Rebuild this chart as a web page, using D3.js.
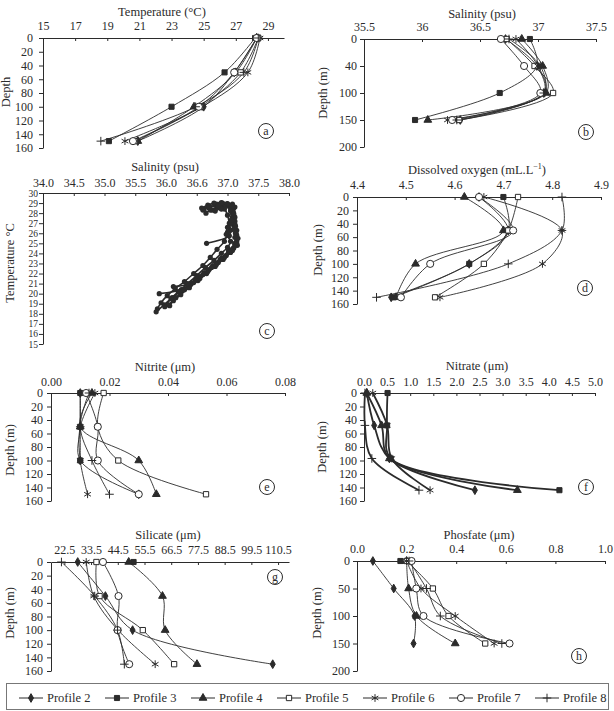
<!DOCTYPE html>
<html>
<head>
<meta charset="utf-8">
<script src="https://cdn.jsdelivr.net/npm/d3@7"></script>
<style>
  body { margin: 0; background: #fff; }
  svg { font-family: "Liberation Serif", "Times New Roman", serif; }
</style>
</head>
<body>
<svg id="chart" width="614" height="711"></svg>
<script>
// ---- data (rows are Profile 2 .. Profile 8, one value per sampled depth; null = no sample)
const profileNames = ["Profile 2", "Profile 3", "Profile 4", "Profile 5", "Profile 6", "Profile 7", "Profile 8"];
const depths = [0, 50, 100, 150];
const nitrateDepths = [0, 48, 97, 144];

const temperature = [
  [28.3, 26.9, 25.0, 20.9],
  [28.2, 26.3, 23.0, 19.1],
  [28.3, 27.0, 24.4, 20.9],
  [28.4, 27.3, 24.8, 20.7],
  [28.5, 27.75, 24.9, 20.1],
  [28.3, 26.9, 24.7, 20.6],
  [28.4, 27.5, 24.5, 18.6]
];
const salinity = [
  [36.72, 36.99, 37.05, 36.33],
  [36.93, 36.99, 36.67, 35.94],
  [36.86, 37.04, 37.07, 36.05],
  [36.73, 36.97, 37.13, 36.32],
  [36.81, 37.00, 37.06, 36.22],
  [36.68, 36.88, 37.02, 36.26],
  [36.75, 37.02, 37.05, 36.30]
];
const oxygen = [
  [4.65, 4.71, 4.63, 4.47],
  [4.70, 4.71, 4.63, 4.475],
  [4.62, 4.70, 4.52, 4.48],
  [4.73, 4.71, 4.66, 4.56],
  [4.66, 4.82, 4.78, 4.57],
  [4.65, 4.72, 4.55, 4.49],
  [4.82, 4.82, 4.71, 4.44]
];
const nitrite = [
  [0.010, 0.010, 0.010, 0.030],
  [0.010, 0.010, 0.010, null],
  [0.014, 0.010, 0.030, 0.036],
  [0.018, 0.016, 0.023, 0.053],
  [0.015, 0.010, 0.010, 0.0125],
  [0.012, 0.016, 0.016, 0.030],
  [0.013, 0.010, 0.014, 0.020]
];
const nitrate = [
  [0.06, 0.22, 0.55, 2.40],
  [0.51, 0.50, 0.58, 4.23],
  [0.06, 0.38, 0.55, 3.32],
  [null, null, null, null],
  [0.19, 0.50, 0.60, 1.43],
  [null, null, null, null],
  [0.02, 0.02, 0.17, 1.19]
];
const silicate = [
  [28.0, 39.4, 50.6, 108.3],
  [51.0, null, null, null],
  [49.0, 62.9, 64.0, 77.1],
  [35.7, 37.0, 54.8, 67.7],
  [31.5, 34.6, 44.6, 59.9],
  [38.4, 44.8, 44.4, 49.2],
  [21.3, 35.0, 44.4, 47.2]
];
const phosfate = [
  [0.064, 0.148, 0.232, 0.228],
  [0.175, null, null, null],
  [0.200, 0.208, 0.240, 0.396],
  [0.200, 0.306, 0.369, 0.517],
  [0.200, 0.258, 0.396, 0.553],
  [0.220, 0.239, 0.268, 0.615],
  [0.210, 0.280, 0.336, 0.584]
];

// T-S casts: [salinity, temperature]
const tsCurves = [
  [[36.62,28.4],[36.70,28.7],[36.82,28.9],[36.95,28.8],[37.05,28.3],[37.08,27.6],[37.10,26.8],[37.13,26.0],[37.15,25.2],[37.10,24.5],[36.98,23.8],[36.85,23.1],[36.70,22.4],[36.55,21.7],[36.40,21.0],[36.25,20.3],[36.10,19.6],[35.97,18.9],[35.84,18.2]],
  [[36.70,28.5],[36.80,28.8],[36.92,29.0],[37.02,28.7],[37.08,28.0],[37.12,27.2],[37.15,26.3],[37.17,25.5],[37.16,24.8],[37.05,24.1],[36.93,23.4],[36.80,22.7],[36.66,22.0],[36.52,21.3],[36.38,20.6],[36.24,19.9],[36.12,19.3],[36.06,18.8]],
  [[36.75,28.3],[36.85,28.6],[36.98,28.9],[37.06,28.6],[37.10,27.8],[37.12,26.9],[37.14,26.0],[37.15,25.0],[37.08,24.3],[36.95,23.6],[36.82,22.9],[36.68,22.2],[36.55,21.5],[36.40,20.9],[36.25,20.4],[35.89,20.0]],
  [[36.80,28.2],[36.90,28.5],[37.00,28.8],[37.10,28.5],[37.12,27.6],[37.13,26.7],[37.15,25.8],[37.12,25.0],[37.02,24.3],[36.90,23.5],[36.76,22.8],[36.62,22.1],[36.48,21.4],[36.34,20.9],[36.12,20.7]],
  [[36.65,28.0],[36.72,28.3],[36.85,28.6],[36.95,28.4],[37.00,27.8],[37.03,27.0],[37.05,26.3],[37.03,25.75],[36.66,25.0]],
  [[36.90,28.4],[36.98,28.7],[37.08,28.9],[37.12,28.6],[37.10,27.9],[37.05,27.0],[37.00,26.1],[36.95,25.2],[36.83,24.4],[36.72,23.6],[36.60,22.8],[36.45,22.0],[36.30,21.2],[36.15,20.5],[36.02,19.8],[35.92,19.1],[35.86,18.5]],
  [[36.58,28.5],[36.68,28.8],[36.78,29.0],[36.90,29.05],[37.00,28.9],[37.05,28.2],[37.08,27.3],[37.10,26.4],[37.12,25.6],[37.12,24.9],[37.02,24.2],[36.88,23.4],[36.74,22.6],[36.60,21.9],[36.45,21.1],[36.30,20.4],[36.16,19.6],[36.04,18.9]],
  [[36.60,28.3],[36.70,28.6],[36.85,28.75],[37.00,28.95],[37.08,28.7],[37.10,28.0],[37.06,27.3],[37.00,26.6],[36.98,25.9],[37.05,25.2],[37.00,24.6],[36.90,24.0],[36.78,23.3],[36.64,22.6],[36.50,21.8],[36.35,21.0],[36.20,20.2],[36.08,19.5],[35.98,18.7]]
];

// ---- tick values / labels
const depthTicks160 = [0, 20, 40, 60, 80, 100, 120, 140, 160];
const depthTicks200 = [0, 50, 100, 150, 200];
const salDepthLabels = ["0", "40", "100", "150", "200"];
const tempTicks = [15, 17, 19, 21, 23, 25, 27, 29];
const salTicks = [35.5, 36, 36.5, 37, 37.5];
const tsSalTicks = [34, 34.5, 35, 35.5, 36, 36.5, 37, 37.5, 38];
const tsSalLabels = ["34.0", "34.5", "35.0", "35.5", "36.0", "36.6", "37.0", "37.5", "38.0"];
const tsTempTicks = [15, 16, 17, 18, 19, 20, 21, 22, 23, 24, 25, 26, 27, 28, 29, 30];
const oxyTicks = [4.4, 4.5, 4.6, 4.7, 4.8, 4.9];
const nitriteTicks = [0, 0.02, 0.04, 0.06, 0.08];
const nitrateTicks = [0, 0.5, 1, 1.5, 2, 2.5, 3, 3.5, 4, 4.5, 5];
const silicateTicks = [22.5, 33.5, 44.5, 55.5, 66.5, 77.5, 88.5, 99.5, 110.5];
const phosfateTicks = [0, 0.2, 0.4, 0.6, 0.8, 1];

// ---- styles
const INK = "#2b2b2b",
      FONT_SIZE = 12;

const MARKERS = [
  {type: d3.symbolDiamond, size: 22, fill: INK},
  {type: d3.symbolSquare, size: 26, fill: INK},
  {type: d3.symbolTriangle, size: 26, fill: INK},
  {type: d3.symbolSquare, size: 28, fill: "#fff"},
  {type: d3.symbolAsterisk, size: 42, fill: "none"},
  {type: d3.symbolCircle, size: 40, fill: "#fff"},
  {type: d3.symbolPlus, size: 26, fill: "none"}
];

const svg = d3.select("#chart");

function styleAxis(sel) {
  sel.attr("font-family", null)
    .attr("font-size", FONT_SIZE);
  sel.selectAll("path, line").attr("stroke", INK);
  sel.selectAll("text").attr("fill", INK);
}

function panel(o) {
  let x = d3.scaleLinear().domain(o.xDomain).range([o.left, o.right]),
      y = d3.scaleLinear().domain(o.yDomain).range([o.top, o.bottom]),
      g = svg.append("g");

  let xAxis = d3.axisTop(x)
      .tickValues(o.xTicks)
      .tickSize(-3)
      .tickSizeOuter(0)
      .tickPadding(o.xPad || 8);
  if (o.xLabels)
    xAxis.tickFormat((d, i) => o.xLabels[i]);
  else if (o.xFormat)
    xAxis.tickFormat(d3.format(o.xFormat));
  else
    xAxis.tickFormat(d => String(d));

  let yAxis = d3.axisLeft(y)
      .tickValues(o.yTicks)
      .tickSize(4)
      .tickSizeOuter(0)
      .tickPadding(o.yPad || 4);
  if (o.yLabels)
    yAxis.tickFormat((d, i) => o.yLabels[i]);

  g.append("g")
    .attr("transform", "translate(0," + o.top + ")")
    .call(xAxis)
    .call(styleAxis);

  g.append("g")
    .attr("transform", "translate(" + o.left + ",0)")
    .call(yAxis)
    .call(styleAxis)
    .attr("font-size", o.yFont || FONT_SIZE);

  g.append("text")
    .attr("x", o.titleX)
    .attr("y", o.titleY)
    .attr("text-anchor", "middle")
    .attr("font-size", FONT_SIZE + 0.5)
    .attr("fill", INK)
    .html(o.title);

  g.append("text")
    .attr("transform", "translate(" + o.yTitleX + "," + o.yTitleY + ") rotate(-90)")
    .attr("text-anchor", "middle")
    .attr("font-size", FONT_SIZE + 0.5)
    .attr("fill", INK)
    .text(o.yTitle);

  // circled panel letter
  g.append("circle")
    .attr("cx", o.tagX)
    .attr("cy", o.tagY)
    .attr("r", 7.5)
    .attr("fill", "#fff")
    .attr("stroke", INK);
  g.append("text")
    .attr("x", o.tagX)
    .attr("y", o.tagY + 4)
    .attr("text-anchor", "middle")
    .attr("font-size", FONT_SIZE)
    .attr("fill", INK)
    .text(o.tag);

  return {g: g, x: x, y: y};
}

function marker(sel, i) {
  let m = MARKERS[i];
  sel.attr("d", d3.symbol().type(m.type).size(m.size)())
    .attr("fill", m.fill)
    .attr("stroke", INK)
    .attr("stroke-width", 1);
}

function drawProfiles(p, depthList, rows, lineWidth) {
  let line = d3.line()
      .x(d => p.x(d.v))
      .y(d => p.y(d.depth))
      .curve(d3.curveCatmullRom);

  let series = rows.map(row =>
    row.map((v, j) => ({v: v, depth: depthList[j]})).filter(d => d.v != null));

  p.g.append("g")
    .selectAll("path")
    .data(series)
    .join("path")
    .attr("d", d => d.length > 1 ? line(d) : null)
    .attr("fill", "none")
    .attr("stroke", INK)
    .attr("stroke-width", lineWidth || 0.9);

  series.forEach((pts, i) => {
    p.g.append("g")
      .selectAll("path")
      .data(pts)
      .join("path")
      .attr("transform", d => "translate(" + p.x(d.v) + "," + p.y(d.depth) + ")")
      .call(marker, i);
  });
}

// a) temperature
let pa = panel({
  xDomain: [15, 30], left: 43, right: 284, xTicks: tempTicks,
  yDomain: [0, 160], top: 38, bottom: 148, yTicks: depthTicks160, yPad: 6,
  title: "Temperature (°C)", titleX: 162, titleY: 16,
  yTitle: "Depth", yTitleX: 10, yTitleY: 92,
  tag: "a", tagX: 266, tagY: 131
});
drawProfiles(pa, depths, temperature);

// b) salinity
let pb = panel({
  xDomain: [35.5, 37.5], left: 364, right: 596, xTicks: salTicks,
  yDomain: [0, 200], top: 39, bottom: 147, yTicks: depthTicks200, yLabels: salDepthLabels, yPad: 3,
  title: "Salinity (psu)", titleX: 482, titleY: 18,
  yTitle: "Depth (m)", yTitleX: 327, yTitleY: 93,
  tag: "b", tagX: 586, tagY: 132
});
drawProfiles(pb, depths, salinity);

// c) T-S diagram
let pc = panel({
  xDomain: [34, 38], left: 43, right: 289, xTicks: tsSalTicks, xLabels: tsSalLabels, xPad: 6,
  yDomain: [30, 15], top: 193, bottom: 344, yTicks: tsTempTicks, yPad: 1, yFont: 9.5,
  title: "Salinity (psu)", titleX: 165, titleY: 171,
  yTitle: "Temperature °C", yTitleX: 14, yTitleY: 263,
  tag: "c", tagX: 267, tagY: 331
});
let tsLine = d3.line()
    .x(d => pc.x(d[0]))
    .y(d => pc.y(d[1]))
    .curve(d3.curveCatmullRom);
pc.g.append("g")
  .selectAll("path")
  .data(tsCurves)
  .join("path")
  .attr("d", tsLine)
  .attr("fill", "none")
  .attr("stroke", INK)
  .attr("stroke-width", 1.6);
pc.g.append("g")
  .selectAll("circle")
  .data(tsCurves.flat())
  .join("circle")
  .attr("cx", d => pc.x(d[0]))
  .attr("cy", d => pc.y(d[1]))
  .attr("r", 2.6)
  .attr("fill", INK);

// d) dissolved oxygen
let pd = panel({
  xDomain: [4.4, 4.9], left: 357, right: 601, xTicks: oxyTicks, xFormat: ".1f",
  yDomain: [0, 160], top: 197, bottom: 304, yTicks: depthTicks160,
  title: "Dissolved oxygen (mL.L<tspan dy='-5' font-size='8'>−1</tspan><tspan dy='5'>)</tspan>", titleX: 477, titleY: 174,
  yTitle: "Depth (m)", yTitleX: 322, yTitleY: 250,
  tag: "d", tagX: 585, tagY: 288
});
drawProfiles(pd, depths, oxygen);

// e) nitrite
let pe = panel({
  xDomain: [0, 0.08], left: 51, right: 285, xTicks: nitriteTicks, xFormat: ".2f", xPad: 7,
  yDomain: [0, 160], top: 393, bottom: 501, yTicks: depthTicks160,
  title: "Nitrite (μm)", titleX: 165, titleY: 371,
  yTitle: "Depth (m)", yTitleX: 14, yTitleY: 450,
  tag: "e", tagX: 267, tagY: 487
});
drawProfiles(pe, depths, nitrite);

// f) nitrate
let pf = panel({
  xDomain: [0, 5], left: 364, right: 595, xTicks: nitrateTicks, xFormat: ".1f", xPad: 7,
  yDomain: [0, 160], top: 393, bottom: 501, yTicks: depthTicks160, yPad: 3,
  title: "Nitrate (μm)", titleX: 477, titleY: 370,
  yTitle: "Depth (m)", yTitleX: 326, yTitleY: 447,
  tag: "f", tagX: 586, tagY: 487
});
drawProfiles(pf, nitrateDepths, nitrate, 1.8);

// g) silicate
let pg = panel({
  xDomain: [17, 115], left: 51, right: 289, xTicks: silicateTicks, xFormat: ".1f",
  yDomain: [0, 160], top: 562, bottom: 671, yTicks: depthTicks160,
  title: "Silicate (μm)", titleX: 168, titleY: 539,
  yTitle: "Depth (m)", yTitleX: 14, yTitleY: 613,
  tag: "g", tagX: 275, tagY: 577
});
drawProfiles(pg, depths, silicate);

// h) phosfate
let ph = panel({
  xDomain: [0, 1], left: 357, right: 605, xTicks: phosfateTicks, xFormat: ".1f",
  yDomain: [0, 200], top: 561, bottom: 671, yTicks: depthTicks200, yPad: 3,
  title: "Phosfate (μm)", titleX: 479, titleY: 539,
  yTitle: "Depth (m)", yTitleX: 321, yTitleY: 613,
  tag: "h", tagX: 579, tagY: 656
});
drawProfiles(ph, depths, phosfate);

// legend
let legend = svg.append("g");
legend.append("rect")
  .attr("x", 6.5)
  .attr("y", 683.5)
  .attr("width", 602)
  .attr("height", 26)
  .attr("fill", "#fff")
  .attr("stroke", "#777");

let items = legend.selectAll("g.item")
  .data(profileNames)
  .join("g")
  .attr("class", "item")
  .attr("transform", (d, i) => "translate(" + (31 + i * 86) + ",698)");
items.append("line")
  .attr("x1", -12).attr("x2", 12)
  .attr("stroke", INK);
items.append("path")
  .each(function(d, i) { d3.select(this).call(marker, i); });
items.append("text")
  .attr("x", 16)
  .attr("y", 4)
  .attr("font-size", FONT_SIZE + 0.5)
  .attr("fill", INK)
  .text(d => d);
</script>
</body>
</html>
